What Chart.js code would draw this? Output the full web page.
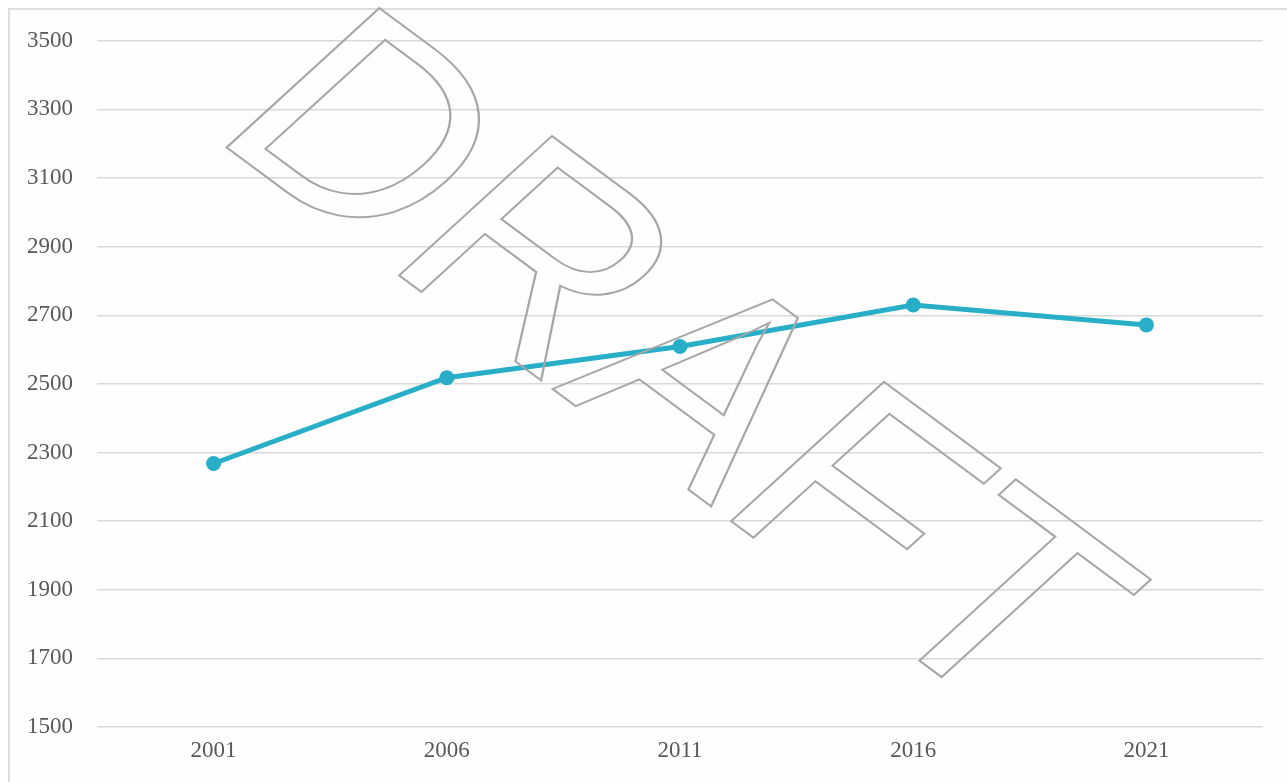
<!DOCTYPE html>
<html>
<head>
<meta charset="utf-8">
<title>Line chart 2001-2021</title>
<script src="https://cdn.jsdelivr.net/npm/chart.js@4.4.1/dist/chart.umd.min.js"></script>
<style>
  html, body { margin: 0; padding: 0; background: #fff; overflow: hidden; }
  .frame {
    position: absolute; left: 8px; top: 8px;
    width: 1300px; height: 800px;
    border: 2px solid #dedede; background: #fefefe;
  }
  .wrap { position: absolute; left: 10px; top: 3px; width: 1277px; height: 779px; }
</style>
</head>
<body>
<div class="frame"></div>
<div class="wrap"><canvas id="chart"></canvas></div>
<script>
const years = ['2001', '2006', '2011', '2016', '2021'];
const values = [2268, 2518, 2609, 2730, 2672];
const yMin = 1500;
const yMax = 3500;
const yStep = 200;

const lineColor = '#29aec8';
const tickFont = { family: "'Liberation Serif', 'DejaVu Serif', serif", size: 23 };

// outlined DRAFT stamp drawn over the finished chart (canvas sits 3px from page top)
const draftStamp = {
    id: 'draftStamp',
    afterDraw(chart) {
        const ctx = chart.ctx;
        ctx.save();
        ctx.setTransform(1.195, 0.885, -1.110, 1.013, 197, 130);
        ctx.font = "200px 'Liberation Sans', Arial, sans-serif";
        ctx.textBaseline = 'alphabetic';
        ctx.textAlign = 'left';
        ctx.lineJoin = 'miter';
        ctx.strokeStyle = '#a6a6a6';
        ctx.lineWidth = 1.4;
        ctx.strokeText('DRAFT', 0, 0);
        ctx.restore();
    }
};

new Chart(document.getElementById('chart'), {
    type: 'line',
    data: {
        labels: years,
        datasets: [{
            data: values,
            borderColor: lineColor,
            backgroundColor: lineColor,
            borderWidth: 5,
            pointRadius: 7.5,
            pointHoverRadius: 7.5,
            pointBorderWidth: 0,
            tension: 0
        }]
    },
    options: {
        responsive: true,
        maintainAspectRatio: false,
        animation: false,
        layout: { padding: { top: 17, right: 24, left: 0, bottom: 0 } },
        plugins: {
            legend: { display: false },
            tooltip: { enabled: false }
        },
        scales: {
            x: {
                offset: true,
                grid: { display: false, drawTicks: false },
                border: { display: false },
                ticks: { color: '#595959', font: tickFont, padding: 10 },
                afterFit: s => { s.height = 55; }
            },
            y: {
                min: yMin,
                max: yMax,
                ticks: {
                    stepSize: yStep,
                    color: '#595959',
                    font: tickFont,
                    padding: 24,
                    callback: v => String(v)
                },
                grid: { color: '#d9d9d9', lineWidth: 1.5, drawTicks: false },
                border: { display: false },
                afterFit: s => { s.width = 87; }
            }
        }
    },
    plugins: [draftStamp]
});
</script>
</body>
</html>
